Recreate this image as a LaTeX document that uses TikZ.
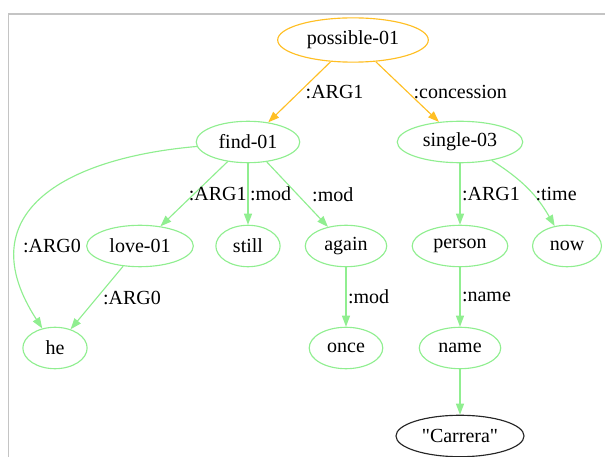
\documentclass[tikz,border=0pt]{standalone}
\usepackage{fontspec}
\setmainfont{Liberation Serif}[Ligatures=TeXOff]
\usetikzlibrary{
    shapes.geometric,
    arrows.meta
}
\definecolor{amrorange}{HTML}{FFBF24}
\definecolor{amrgreen}{HTML}{90EE90}
\definecolor{framegray}{HTML}{C4C4C4}
\tikzset{
    >={Triangle[length=7.7pt,width=5.6pt]},
    concept/.style={
        ellipse,
        draw=amrgreen,
        line width=0.8pt,
        inner xsep=5pt,
        inner ysep=2pt,
        minimum width=45pt,
        minimum height=29pt,
        font=\fontsize{14}{16}\selectfont
    },
    root/.style={concept, draw=amrorange, minimum height=31pt},
    const/.style={concept, draw=black!85},
    rel/.style={
        text=black,
        inner sep=4pt,
        font=\fontsize{14}{16}\selectfont
    }
}

\begin{document}
\begin{tikzpicture}[
    x=0.7pt,
    y=-0.7pt
]
    \useasboundingbox (0,0) rectangle (605,457);

    % Marco
    \draw[framegray, line width=0.9pt] (8.5,457) -- (8.5,14) -- (605,14);

    % Conceptos
    \node[root]    (possible) at (353,40)  {possible-01};

    \node[concept] (find)     at (248,142) {find-01};
    \node[concept] (single)   at (460,142) {single-03};

    \node[concept] (love)     at (140,246) {love-01};
    \node[concept] (still)    at (248,246) {still};
    \node[concept] (again)    at (346,246) {again};
    \node[concept] (person)   at (460,246) {person};
    \node[concept] (now)      at (567,246) {now};

    \node[concept] (he)       at (55,348)  {he};
    \node[concept] (once)     at (346,348) {once};
    \node[concept] (name)     at (460,348) {name};

    % Constante
    \node[const]   (carrera)  at (460,436) {"Carrera"};

    % Relaciones desde la raiz
    \path[->, line width=0.8pt, amrorange]
        (possible)
            edge node[rel, right] {:ARG1} (find)
            edge node[rel, right] {:concession} (single);

    % Relaciones
    \path[->, line width=0.8pt, amrgreen]

        % Desde find-01
        (find)
            edge[
                out=185,
                in=123,
                looseness=1.45
            ]
            node[rel, right, pos=0.72] {:ARG0} (he)
            edge node[rel, right, xshift=-8pt] {:ARG1} (love)
            edge node[rel, right, xshift=-3pt] {:mod} (still)
            edge node[rel, right, xshift=6pt] {:mod} (again)

        % Desde love-01 y again
        (love)
            edge node[rel, right] {:ARG0} (he)
        (again)
            edge node[rel, right, xshift=-3pt] {:mod} (once)

        % Desde single-03
        (single)
            edge node[rel, right, xshift=-3pt] {:ARG1} (person)
            edge[bend left=14] node[rel, right, xshift=1pt, yshift=-4pt] {:time} (now)

        % Nombre
        (person)
            edge node[rel, right, xshift=-3pt] {:name} (name)
        (name)
            edge (carrera);

\end{tikzpicture}
\end{document}
